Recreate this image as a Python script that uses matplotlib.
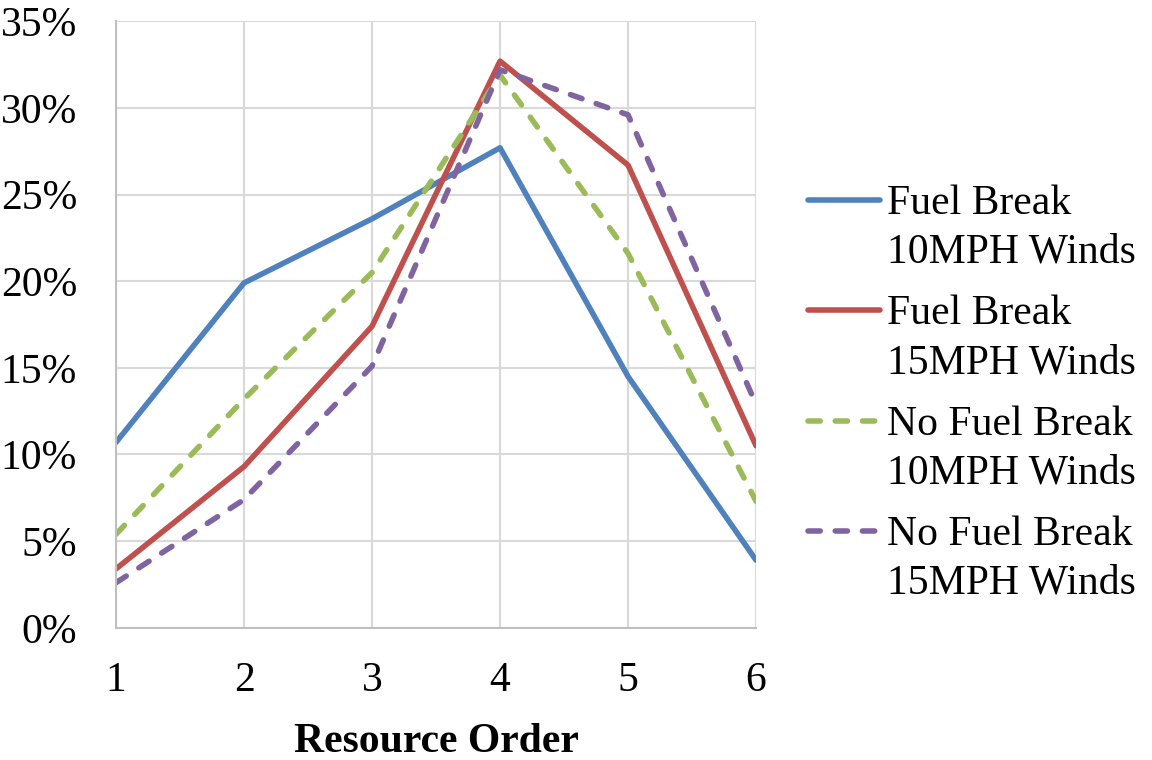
import numpy as np
import matplotlib
matplotlib.use("Agg")
import matplotlib.pyplot as plt
from matplotlib.ticker import PercentFormatter

# Datos
orden = [1, 2, 3, 4, 5, 6]
fb_10 = [10.7, 19.9, 23.6, 27.7, 14.5, 3.9]
fb_15 = [3.4, 9.3, 17.4, 32.7, 26.7, 10.5]
nfb_10 = [5.4, 13.2, 20.5, 31.9, 21.6, 7.3]
nfb_15 = [2.6, 7.4, 15.1, 32.2, 29.6, 12.9]

etiquetas = ["Fuel Break\n10MPH Winds", "Fuel Break\n15MPH Winds",
             "No Fuel Break\n10MPH Winds", "No Fuel Break\n15MPH Winds"]
colores = ["#4F81BD", "#C0504D", "#9BBB59", "#8064A2"]
estilos = ["-", "-", (0, (2.2, 2.7)), (0, (2.2, 2.7))]

plt.rcParams['font.family'] = ['Liberation Serif', 'DejaVu Serif']
fs = 30

fig = plt.figure(figsize=(11.52, 7.6), dpi=100)
ax = fig.add_axes([0.1007, 0.174, 0.5556, 0.798])

series = [fb_10, fb_15, nfb_10, nfb_15]
for datos, etq, col, est in zip(series, etiquetas, colores, estilos):
    ax.plot(orden, datos, color=col, linestyle=est, linewidth=4.0,
            label=etq, solid_capstyle='round', dash_capstyle='round')

ax.set_xlim(1, 6)
ax.set_ylim(0, 35)
ax.set_xticks(orden)
ax.set_yticks(np.arange(0, 36, 5))
ax.yaxis.set_major_formatter(PercentFormatter(decimals=0))
ax.grid(True, color="#D9D9D9", linewidth=1.5)
ax.set_axisbelow(True)
for s in ["top", "right"]:
    ax.spines[s].set_visible(False)
for s in ["left", "bottom"]:
    ax.spines[s].set_color("#BFBFBF")
    ax.spines[s].set_linewidth(1.5)
ax.tick_params(axis='y', length=0, pad=28, labelsize=fs)
ax.tick_params(axis='x', length=0, pad=24, labelsize=fs)
ax.set_xlabel("Resource Order", fontsize=fs, fontweight='bold', labelpad=17)

leg = ax.legend(loc='center left', bbox_to_anchor=(0.701, 0.482),
                bbox_transform=fig.transFigure, frameon=False, fontsize=fs,
                handlelength=1.75, handletextpad=0.15, labelspacing=0.55,
                borderpad=0, borderaxespad=0)
for t in leg.get_texts():
    t.set_linespacing(1.35)
# alinear cada muestra con la primera linea del texto
for linea in leg.get_lines():
    linea.set_ydata(np.array(linea.get_ydata()) + 0.68 * fs)

fig.savefig("out.png", dpi=100)
